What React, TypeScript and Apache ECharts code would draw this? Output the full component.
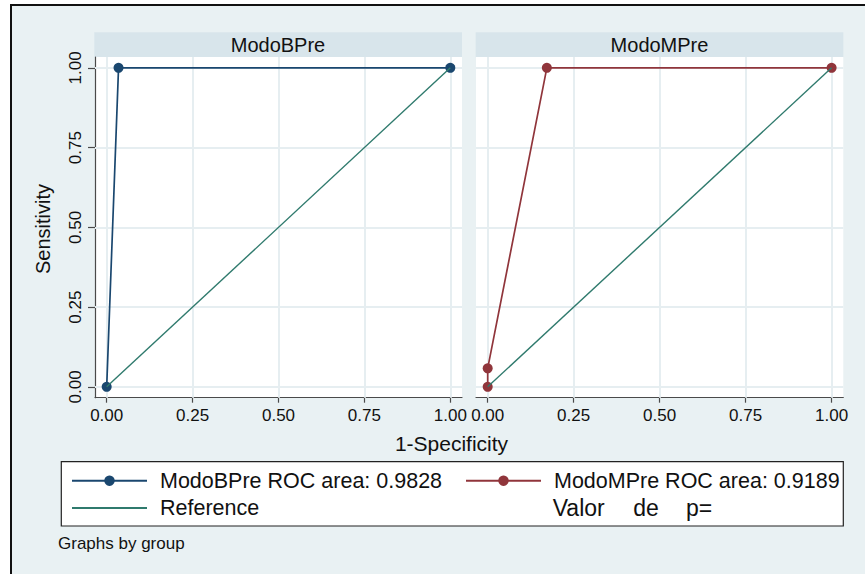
import React, { useEffect, useRef } from 'react';
import * as echarts from 'echarts';

// ---- data ----
const panelTitles = ['ModoBPre', 'ModoMPre'];
const tickValues = [0, 0.25, 0.5, 0.75, 1];
const modoBPreFpr = [0, 0.0345, 1];
const modoBPreTpr = [0, 1, 1];
const modoMPreFpr = [0, 0, 0.172, 1];
const modoMPreTpr = [0, 0.058, 1, 1];
const referenceFpr = [0, 1];
const referenceTpr = [0, 1];
const seriesNames = ['ModoBPre ROC area: 0.9828', 'ModoMPre ROC area: 0.9189', 'Reference'];
const xTitle = '1-Specificity';
const yTitle = 'Sensitivity';
const noteText = 'Graphs by group';
const pValueWords = ['Valor', 'de', 'p='];

// ---- style ----
const FONT = '"Liberation Sans", Arial, Helvetica, sans-serif';
const BG = '#e9f1f3';
const STRIP = '#d8e5eb';
const GRID_LINE = '#e6eef1';
const NAVY = '#1a476f';
const MAROON = '#90353b';
const TEAL = '#2f7a6d';
const AXIS = '#4a4a4a';

const zip = (xs: number[], ys: number[]) => xs.map((x, i) => [x, ys[i]]);

const AX_MIN = -0.034;
const AX_MAX = 1.034;

function buildOption(): any {
  const grids = [
    { left: 95, top: 57, width: 367, height: 340.7 },
    { left: 476, top: 57, width: 367.3, height: 340.7 },
  ].map((g) => ({ ...g, show: true, backgroundColor: '#ffffff', borderWidth: 0, containLabel: false }));

  const xAxes = [0, 1].map((i) => ({
    type: 'value',
    gridIndex: i,
    min: AX_MIN,
    max: AX_MAX,
    axisLine: { show: true, onZero: false, lineStyle: { color: AXIS, width: 1.2 } },
    axisTick: { show: true, length: 5, customValues: tickValues, lineStyle: { color: AXIS, width: 1.2 } },
    axisLabel: {
      customValues: tickValues,
      formatter: (v: number) => v.toFixed(2),
      fontFamily: FONT,
      fontSize: 17,
      color: '#111',
      margin: 9,
    },
    splitLine: { show: false },
  }));

  const yAxes = [0, 1].map((i) => ({
    type: 'value',
    gridIndex: i,
    min: AX_MIN,
    max: AX_MAX,
    axisLine: { show: i === 0, onZero: false, lineStyle: { color: AXIS, width: 1.2 } },
    axisTick: { show: i === 0, length: 7, customValues: tickValues, lineStyle: { color: AXIS, width: 1.2 } },
    axisLabel: {
      show: i === 0,
      customValues: tickValues,
      formatter: (v: number) => v.toFixed(2),
      rotate: 90,
      fontFamily: FONT,
      fontSize: 17,
      color: '#111',
      margin: 11,
    },
    splitLine: { show: false },
  }));

  const gridLineSeries = (i: number) => ({
    type: 'line',
    name: 'gridlines' + i,
    xAxisIndex: i,
    yAxisIndex: i,
    data: zip(referenceFpr, referenceTpr),
    symbol: 'none',
    lineStyle: { opacity: 0 },
    z: 1,
    silent: true,
    markLine: {
      z: 1,
      silent: true,
      symbol: ['none', 'none'],
      label: { show: false },
      lineStyle: { color: GRID_LINE, width: 2, type: 'solid' },
      emphasis: { disabled: true },
      data: [
        ...tickValues.map((v) => ({ xAxis: v })),
        ...tickValues.map((v) => ({ yAxis: v })),
      ],
    },
  });

  const rocSeries = (i: number, name: string, xs: number[], ys: number[], color: string) => ({
    type: 'line',
    name,
    xAxisIndex: i,
    yAxisIndex: i,
    data: zip(xs, ys),
    symbol: 'circle',
    symbolSize: 10,
    showAllSymbol: true,
    color,
    itemStyle: { color },
    lineStyle: { color, width: 1.7 },
    z: 3,
    emphasis: { disabled: true },
  });

  const refSeries = (i: number) => ({
    type: 'line',
    name: seriesNames[2],
    xAxisIndex: i,
    yAxisIndex: i,
    data: zip(referenceFpr, referenceTpr),
    symbol: 'none',
    color: TEAL,
    itemStyle: { color: TEAL },
    lineStyle: { color: TEAL, width: 1.4 },
    z: 4,
    emphasis: { disabled: true },
  });

  const legendText = {
    fontFamily: FONT,
    fontSize: 21.5,
    color: '#111',
    lineHeight: 22,
    padding: [0, 0, 0, 8],
  };

  const legends = [
    {
      data: [{ name: seriesNames[0] }, { name: seriesNames[2], itemStyle: { opacity: 0 } }],
      orient: 'vertical',
      left: 71,
      top: 469.7,
      itemWidth: 75,
      itemHeight: 13,
      itemGap: 5.3,
      padding: 0,
      selectedMode: false,
      textStyle: legendText,
      z: 10,
    },
    {
      data: [{ name: seriesNames[1] }],
      orient: 'vertical',
      left: 465,
      top: 469.7,
      itemWidth: 75,
      itemHeight: 13,
      itemGap: 5.3,
      padding: 0,
      selectedMode: false,
      textStyle: legendText,
      z: 10,
    },
  ];

  const pWordX = [552.7, 633.3, 686];

  const graphic = [
    { type: 'rect', shape: { x: 11, y: 5, width: 860, height: 575 }, style: { fill: BG }, z: -10, silent: true },
    { type: 'line', shape: { x1: 10, y1: 5, x2: 865, y2: 5 }, style: { stroke: '#111', lineWidth: 2 }, z: -5, silent: true },
    { type: 'line', shape: { x1: 11, y1: 4, x2: 11, y2: 574 }, style: { stroke: '#111', lineWidth: 2 }, z: -5, silent: true },
    { type: 'rect', shape: { x: 94.3, y: 32.3, width: 367.7, height: 25 }, style: { fill: STRIP }, z: -4, silent: true },
    { type: 'rect', shape: { x: 475.7, y: 32.3, width: 367.6, height: 25 }, style: { fill: STRIP }, z: -4, silent: true },
    {
      type: 'text', x: 278, y: 45, silent: true,
      style: { text: panelTitles[0], fontFamily: FONT, fontSize: 20, fill: '#111', textAlign: 'center', textVerticalAlign: 'middle' },
    },
    {
      type: 'text', x: 659.5, y: 45, silent: true,
      style: { text: panelTitles[1], fontFamily: FONT, fontSize: 20, fill: '#111', textAlign: 'center', textVerticalAlign: 'middle' },
    },
    {
      type: 'text', x: 451.5, y: 443, silent: true,
      style: { text: xTitle, fontFamily: FONT, fontSize: 21, fill: '#111', textAlign: 'center', textVerticalAlign: 'middle' },
    },
    {
      type: 'text', x: 43, y: 229, rotation: Math.PI / 2, silent: true,
      style: { text: yTitle, fontFamily: FONT, fontSize: 20, fill: '#111', textAlign: 'center', textVerticalAlign: 'middle' },
    },
    {
      type: 'rect', shape: { x: 61.3, y: 461.7, width: 782, height: 64.3 },
      style: { fill: '#ffffff', stroke: '#222', lineWidth: 1.2 }, z: 2, silent: true,
    },
    ...pValueWords.map((w, i) => ({
      type: 'text', x: pWordX[i], y: 508, silent: true, z: 12,
      style: { text: w, fontFamily: FONT, fontSize: 23, fill: '#111', textAlign: 'left', textVerticalAlign: 'middle' },
    })),
    {
      type: 'text', x: 58, y: 543, silent: true,
      style: { text: noteText, fontFamily: FONT, fontSize: 17, fill: '#111', textAlign: 'left', textVerticalAlign: 'middle' },
    },
  ];

  return {
    animation: false,
    backgroundColor: '#ffffff',
    grid: grids,
    xAxis: xAxes,
    yAxis: yAxes,
    legend: legends,
    graphic,
    series: [
      gridLineSeries(0),
      gridLineSeries(1),
      rocSeries(0, seriesNames[0], modoBPreFpr, modoBPreTpr, NAVY),
      refSeries(0),
      rocSeries(1, seriesNames[1], modoMPreFpr, modoMPreTpr, MAROON),
      refSeries(1),
    ],
  };
}

export default function App() {
  const ref = useRef<HTMLDivElement>(null);
  useEffect(() => {
    if (!ref.current) return;
    const chart = echarts.init(ref.current, undefined, { renderer: 'svg' });
    chart.setOption(buildOption());
    return () => chart.dispose();
  }, []);
  return (
    <div
      ref={ref}
      style={{ position: 'fixed', left: 0, top: 0, width: 865, height: 574 }}
    />
  );
}
